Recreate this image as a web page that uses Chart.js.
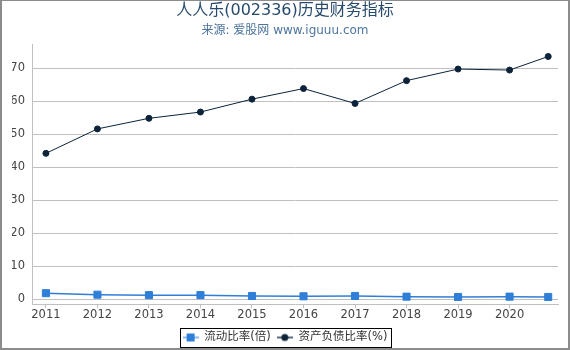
<!DOCTYPE html>
<html lang="zh">
<head>
  <meta charset="UTF-8" />
  <title>人人乐(002336)历史财务指标</title>
  <style>
    html, body { margin: 0; padding: 0; background: #fff; }
    #wrap { position: relative; width: 570px; height: 350px; }
    #chart { position: absolute; left: 0; top: 0; }
    #frame {
      position: absolute; left: 0; top: 0; width: 570px; height: 350px;
      box-sizing: border-box; border-style: solid; border-color: #8c8c8c;
      border-width: 1px 2px 2px 2px; pointer-events: none;
    }
  </style>
</head>
<body>
  <div id="wrap">
    <canvas id="chart" width="570" height="350"></canvas>
    <div id="frame"></div>
  </div>

  <script src="https://cdn.jsdelivr.net/npm/chart.js"></script>
  <script>
    // data (last point is a partial year)
    const periods = [2011, 2012, 2013, 2014, 2015, 2016, 2017, 2018, 2019, 2020, 2020.75];
    const currentRatio = [1.9, 1.45, 1.3, 1.3, 1.05, 0.95, 1.05, 0.85, 0.75, 0.85, 0.75];
    const debtRatio = [44.2, 51.6, 54.8, 56.7, 60.6, 63.8, 59.3, 66.2, 69.7, 69.4, 73.5];
    const xTicks = [2011, 2012, 2013, 2014, 2015, 2016, 2017, 2018, 2019, 2020];
    const yTicks = [0, 10, 20, 30, 40, 50, 60, 70];
    const seriesNames = ['流动比率(倍)', '资产负债比率(%)'];

    const FONT = '"DejaVu Sans", "Noto Sans CJK SC", sans-serif';
    const BLUE = '#2f7ed8';
    const NAVY = '#0d233a';

    function toPoints(vals) {
      return vals.map((v, i) => ({ x: periods[i], y: v }));
    }

    // small line + marker icon for the legend
    function legendIcon(lineColor, color, style) {
      const c = document.createElement('canvas');
      c.width = 16; c.height = 10;
      const g = c.getContext('2d');
      g.strokeStyle = lineColor; g.lineWidth = 2;
      g.beginPath(); g.moveTo(0, 5); g.lineTo(16, 5); g.stroke();
      g.fillStyle = color;
      if (style === 'rect') {
        g.fillRect(4, 1, 8, 8);
      } else {
        g.beginPath(); g.arc(8, 5, 3.5, 0, Math.PI * 2); g.fill();
      }
      return c;
    }
    const icons = [legendIcon('#8dbbee', BLUE, 'rect'), legendIcon('#5a6a7a', NAVY, 'circle')];

    // black frame round the legend items
    const legendBorder = {
      id: 'legendBorder',
      afterDraw(chart) {
        const boxes = chart.legend && chart.legend.legendHitBoxes;
        if (!boxes || !boxes.length) return;
        const ctx = chart.ctx;
        const left = Math.round(Math.min(...boxes.map(b => b.left)) - 3);
        const right = Math.round(Math.max(...boxes.map(b => b.left + b.width)) + 4);
        const mid = boxes[0].top + boxes[0].height / 2;
        const top = Math.round(mid - 10);
        const bottom = Math.round(mid + 9);
        ctx.save();
        ctx.strokeStyle = '#000';
        ctx.lineWidth = 1;
        ctx.strokeRect(left + 0.5, top + 0.5, right - left, bottom - top);
        ctx.restore();
      }
    };

    const ctx = document.getElementById('chart').getContext('2d');
    new Chart(ctx, {
      type: 'line',
      data: {
        datasets: [{
          label: seriesNames[0],
          data: toPoints(currentRatio),
          borderColor: BLUE,
          backgroundColor: BLUE,
          borderWidth: 1.5,
          pointStyle: 'rect',
          pointRadius: 5,
          pointBorderWidth: 1,
          tension: 0
        }, {
          label: seriesNames[1],
          data: toPoints(debtRatio),
          borderColor: NAVY,
          backgroundColor: NAVY,
          borderWidth: 1,
          pointStyle: 'circle',
          pointRadius: 3,
          pointBorderWidth: 1,
          tension: 0
        }]
      },
      options: {
        responsive: false,
        animation: false,
        layout: { padding: { left: 12, right: 12, top: 0, bottom: -3.25 } },
        scales: {
          x: {
            type: 'linear',
            min: 2010.73,
            max: 2020.94,
            afterBuildTicks: axis => { axis.ticks = xTicks.map(v => ({ value: v })); },
            ticks: {
              callback: v => String(v),
              color: '#444',
              font: { family: FONT, size: 11.5 },
              padding: 0,
              maxRotation: 0,
              autoSkip: false
            },
            grid: { drawOnChartArea: false, drawTicks: true, tickLength: 4, color: '#c0c0c0' },
            border: { color: '#c0c0c0' }
          },
          y: {
            min: -1.45,
            max: 77.1,
            afterBuildTicks: axis => { axis.ticks = yTicks.map(v => ({ value: v })); },
            afterFit: axis => { axis.width = 20; },
            ticks: {
              color: '#444',
              font: { family: FONT, size: 11.5 },
              padding: 7
            },
            grid: { color: '#c0c0c0', drawTicks: false },
            border: { color: '#c0c0c0' }
          }
        },
        plugins: {
          title: {
            display: true,
            text: '人人乐(002336)历史财务指标',
            color: '#274b6d',
            font: { family: FONT, size: 16, weight: 'normal' },
            padding: { top: 1.5, bottom: 0 }
          },
          subtitle: {
            display: true,
            text: '来源: 爱股网 www.iguuu.com',
            color: '#4d759e',
            font: { family: FONT, size: 12 },
            padding: { top: 3, bottom: 6.5 }
          },
          legend: {
            position: 'bottom',
            title: {
              display: true,
              text: ' ',
              font: { size: 2, lineHeight: 1 },
              padding: { top: 0.85, bottom: 0.85 }
            },
            labels: {
              usePointStyle: true,
              pointStyleWidth: 16,
              padding: 6,
              color: '#333',
              font: { family: FONT, size: 11.5 },
              generateLabels: chart => chart.data.datasets.map((ds, i) => ({
                text: ds.label,
                pointStyle: icons[i],
                fontColor: '#333',
                datasetIndex: i,
                hidden: false,
                lineWidth: 0
              }))
            }
          },
          tooltip: { enabled: false }
        }
      },
      plugins: [legendBorder]
    });
  </script>
</body>
</html>
